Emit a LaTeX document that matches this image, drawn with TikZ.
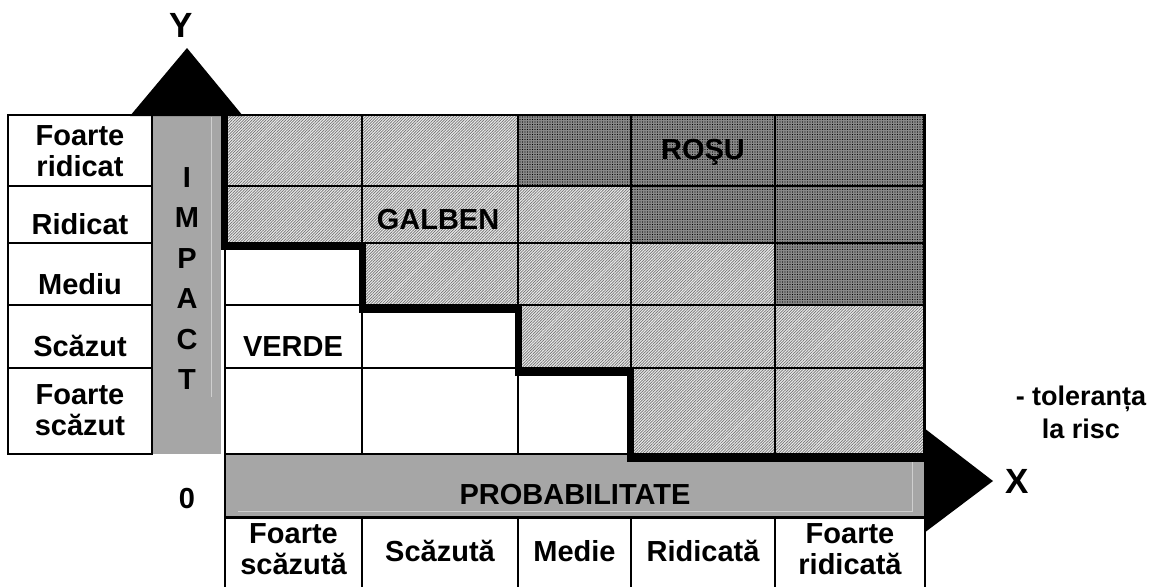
\documentclass[tikz,border=0pt]{standalone}
\usepackage{fontspec}
\setmainfont{Liberation Sans}
\usetikzlibrary{patterns.meta}
\definecolor{bargray}{HTML}{A6A6A6}
\definecolor{bevel}{HTML}{CFCFCF}
\begin{document}
\begin{tikzpicture}[x=1pt,y=-1pt,
  lightcell/.style={preaction={fill=black!8}, pattern={Lines[angle=45,distance=2pt,line width=0.7pt]}, pattern color=black!55},
  darkcell/.style={preaction={fill=black!46}, pattern={Dots[distance=2.5pt,radius=0.7pt]}, pattern color=black},
  gridline/.style={line width=1.5pt},
  tableline/.style={line width=2pt},
  stair/.style={line width=7pt, line join=miter},
  lab/.style={font=\fontsize{29}{31}\selectfont\bfseries, align=center, inner sep=0pt},
  one/.style={lab, text height=21pt, text depth=0pt},
  axislab/.style={font=\fontsize{35}{40}\selectfont\bfseries, inner sep=0pt, text height=25pt, text depth=0pt},
]
\useasboundingbox (0,0) rectangle (1154,587);

% ---- cells ----
\path[lightcell]
  (225,115) rectangle (518,243)
  (518,186) rectangle (631,243)
  (362,243) rectangle (775,305)
  (518,305) rectangle (924,368)
  (631,368) rectangle (924,454);
\path[darkcell]
  (518,115) rectangle (924,186)
  (631,186) rectangle (924,243)
  (775,243) rectangle (924,305);

% ---- grid lines ----
\foreach \y in {186,243,305,368} \draw[gridline] (225,\y) -- (924,\y);
\foreach \x in {362,518,631,775} \draw[gridline] (\x,115) -- (\x,454);
\draw[gridline] (225,115) -- (924,115);
\draw[gridline] (225,115) -- (225,454);
\draw[line width=3pt] (924,114) -- (924,454);

% ---- left label table ----
\draw[tableline] (8,115) rectangle (152,454);
\foreach \y in {186,243,305,368} \draw[tableline] (8,\y) -- (152,\y);

% ---- IMPACT bar ----
\fill[bargray] (153,116) rectangle (221,454);
\draw[bevel, line width=1pt] (211,117) -- (211,397);

% ---- Y arrow head ----
\fill (130,116) -- (187,48) -- (243,116) -- cycle;

% ---- PROBABILITATE bar ----
\fill[bargray] (225,455) rectangle (924,517);
\draw[bevel, line width=1pt] (238,511) -- (912,511) -- (912,462);
\draw[gridline] (225,454) -- (924,454);
\draw[line width=3pt] (225,517) -- (925.5,517);

% ---- bottom table ----
\draw[tableline] (225,454) -- (225,587);
\foreach \x in {362,518,631,775} \draw[tableline] (\x,517) -- (\x,587);
\draw[tableline] (925,517) -- (925,587);

% ---- risk tolerance staircase ----
\draw[stair] (224.5,115) -- (224.5,246.5) -- (362,246.5) -- (362,309.5)
  -- (518,309.5) -- (518,372) -- (630.5,372) -- (630.5,458) -- (924,458);

% ---- X arrow head ----
\fill (924,428) -- (993,481) -- (924,533) -- cycle;

% ---- texts ----
\node[lab] (l1) at (80,151) {Foarte\\ridicat};
\node[one] (l2) at (80,224) {Ridicat};
\node[one] (l3) at (80,284) {Mediu};
\node[one] (l4) at (80,346) {Scăzut};
\node[lab] (l5) at (80,410) {Foarte\\scăzut};

\node[lab, font=\fontsize{29}{40.4}\selectfont\bfseries] (impact) at (187,278.5) {I\\M\\P\\A\\C\\T};

\node[one] (verde) at (293,345.5) {VERDE};
\node[one] (galben) at (438,219) {GALBEN};
\node[one] (rosu) at (703,149) {ROŞU};

\node[one] (prob) at (575,494) {PROBABILITATE};
\node[one] (zero) at (187,498) {0};

\node[lab] (b1) at (293.5,549) {Foarte\\scăzută};
\node[one] (b2) at (440,551) {Scăzută};
\node[one] (b3) at (574.5,551) {Medie};
\node[one] (b4) at (703,551) {Ridicată};
\node[lab] (b5) at (850,549) {Foarte\\ridicată};

\node[axislab] (ylab) at (181.5,24.5) {Y};
\node[axislab] (xlab) at (1017,481) {X};

\node[lab, font=\fontsize{27}{33}\selectfont\bfseries] (tol) at (1081,412.5) {- toleranța\\la risc};
\end{tikzpicture}
\end{document}
